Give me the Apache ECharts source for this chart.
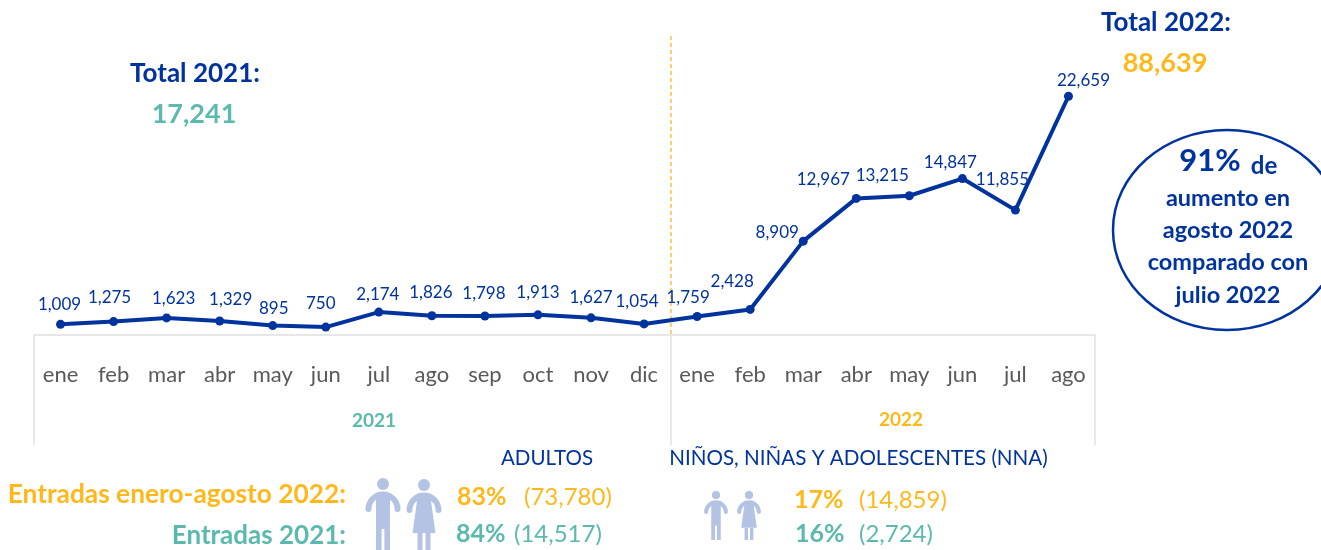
<!DOCTYPE html>
<html>
<head>
<meta charset="utf-8">
<style>html,body{margin:0;padding:0;background:#fff}#chart{width:1321px;height:550px}</style>
<script src="https://cdn.jsdelivr.net/npm/echarts@6/dist/echarts.min.js"></script>
</head>
<body>
<div id="chart"></div>
<script>
var months = ['ene','feb','mar','abr','may','jun','jul','ago','sep','oct','nov','dic','ene','feb','mar','abr','may','jun','jul','ago'];
var entradas = [1009,1275,1623,1329,895,750,2174,1826,1798,1913,1627,1054,1759,2428,8909,12967,13215,14847,11855,22659];
// desplazamiento de cada etiqueta respecto a su punto
var labelDx = [-1,-4,7,11,1,-5,-1,-1,-1,0,0,-7,-9,-18,-26,-33,-27,-12,-13,15];
var labelDy = [-3,-7,-2,-4,0,-7,-1,-6,-6,-5,-3,-5,-2,-11,8,-2,-3,1,-14,1];

var AZUL = '#00339E', TEAL = '#5BB9AE', AMARILLO = '#FFB81C', GRIS = '#595959', FIGURA = '#B4C3E3', BORDE = '#E0E0E0';
var FONT = 'Lato';

var myChart = echarts.init(document.getElementById('chart'));

function txt(text, x, y, size, color, bold, align) {
	return {
		type: 'text', x: x, y: y, silent: true,
		style: { text: text, fill: color, fontFamily: FONT, fontSize: size, fontWeight: bold ? 'bold' : 'normal',
			align: align || 'left', verticalAlign: 'middle' }
	};
}
function raya(x1, y1, x2, y2) {
	return { type: 'line', silent: true, shape: { x1: x1, y1: y1, x2: x2, y2: y2 }, style: { stroke: BORDE, lineWidth: 1.5 } };
}
function rect(x, y, w, h) {
	return { type: 'rect', shape: { x: x, y: y, width: w, height: h }, style: { fill: FIGURA } };
}
// figuras de personas
function persona(x, y, s, mujer) {
	var partes = [
		{ type: 'circle', shape: { cx: 0, cy: 6, r: 6 }, style: { fill: FIGURA } },
		{ type: 'arc', shape: { cx: 0, cy: 31, r: 14.5, startAngle: Math.PI, endAngle: 2 * Math.PI },
			style: { stroke: FIGURA, fill: null, lineWidth: 6, lineCap: 'round' } }
	];
	if (mujer) {
		partes.push({ type: 'polygon', shape: { points: [[-6, 15], [6, 15], [11.5, 54], [-11.5, 54]] }, style: { fill: FIGURA } });
		partes.push(rect(-6.5, 54, 5, 18), rect(1.5, 54, 5, 18));
	} else {
		partes.push(rect(-7, 15, 14, 36));
		partes.push(rect(-7, 50, 5.6, 22), rect(1.4, 50, 5.6, 22));
	}
	return { type: 'group', x: x, y: y, scaleX: s, scaleY: s, silent: true, children: partes };
}

var option = {
	animation: false,
	grid: { left: 34, right: 226, top: 40, bottom: 215 },
	tooltip: { show: false },
	xAxis: {
		type: 'category',
		data: months.map(function (m, i) { return i + '|' + m; }),
		axisLine: { show: true, lineStyle: { color: BORDE, width: 1.5 } },
		axisTick: { show: false },
		axisLabel: {
			interval: 0, margin: 29, color: GRIS, fontFamily: FONT, fontSize: 22,
			formatter: function (v) { return v.split('|')[1]; }
		}
	},
	yAxis: { type: 'value', min: 0, max: 28000, show: false, splitLine: { show: false } },
	series: [{
		type: 'line',
		data: entradas.map(function (v, i) {
			return { value: v, label: { offset: [labelDx[i], labelDy[i]] } };
		}),
		symbol: 'circle',
		symbolSize: 9,
		lineStyle: { color: AZUL, width: 4 },
		itemStyle: { color: AZUL },
		label: {
			show: true, position: 'top', distance: 4, color: AZUL, fontFamily: FONT, fontSize: 17,
			formatter: function (p) { return p.value.toLocaleString('en-US'); }
		}
	}],
	graphic: [
		raya(34, 335, 34, 445), raya(671, 335, 671, 445), raya(1095, 335, 1095, 445),
		{ type: 'line', silent: true, shape: { x1: 671, y1: 36, x2: 671, y2: 335 },
			style: { stroke: AMARILLO, lineWidth: 1.3, lineDash: [4, 3] } },

		txt('2021', 374, 421, 19, TEAL, true, 'center'),
		txt('2022', 901, 420, 19, AMARILLO, true, 'center'),

		txt('Total 2021:', 195, 74, 26, AZUL, true, 'center'),
		txt('17,241', 194, 114, 27, TEAL, true, 'center'),
		txt('Total 2022:', 1166, 23, 26, AZUL, true, 'center'),
		txt('88,639', 1165, 63, 27, AMARILLO, true, 'center'),

		{ type: 'ellipse', silent: true, shape: { cx: 1227, cy: 230, rx: 114, ry: 100 },
			style: { fill: null, stroke: AZUL, lineWidth: 2.5 } },
		txt('91%', 1210, 161, 31, AZUL, true, 'center'),
		txt('de', 1264, 166, 24, AZUL, true, 'center'),
		txt('aumento en', 1228, 198, 23.5, AZUL, true, 'center'),
		txt('agosto 2022', 1228, 230, 23.5, AZUL, true, 'center'),
		txt('comparado con', 1228, 262, 23.5, AZUL, true, 'center'),
		txt('julio 2022', 1228, 295, 23.5, AZUL, true, 'center'),

		txt('ADULTOS', 547, 458, 20.5, AZUL, false, 'center'),
		txt('NIÑOS, NIÑAS Y ADOLESCENTES (NNA)', 858.5, 458, 20.6, AZUL, false, 'center'),

		txt('Entradas enero-agosto 2022:', 346, 495, 26.3, AMARILLO, true, 'right'),
		txt('Entradas 2021:', 346, 536, 26, TEAL, true, 'right'),

		persona(383, 478, 1, false),
		persona(424, 479, 1, true),
		persona(716, 491, 0.68, false),
		persona(749, 491, 0.68, true),

		txt('83%', 457, 497, 25, AMARILLO, true),
		txt('(73,780)', 524, 497, 24, AMARILLO, false),
		txt('84%', 456, 534, 25, TEAL, true),
		txt('(14,517)', 514, 534, 24, TEAL, false),
		txt('17%', 794, 500, 25, AMARILLO, true),
		txt('(14,859)', 859, 500, 24, AMARILLO, false),
		txt('16%', 795, 534, 25, TEAL, true),
		txt('(2,724)', 859, 534, 24, TEAL, false)
	]
};
myChart.setOption(option);
</script>
</body>
</html>
